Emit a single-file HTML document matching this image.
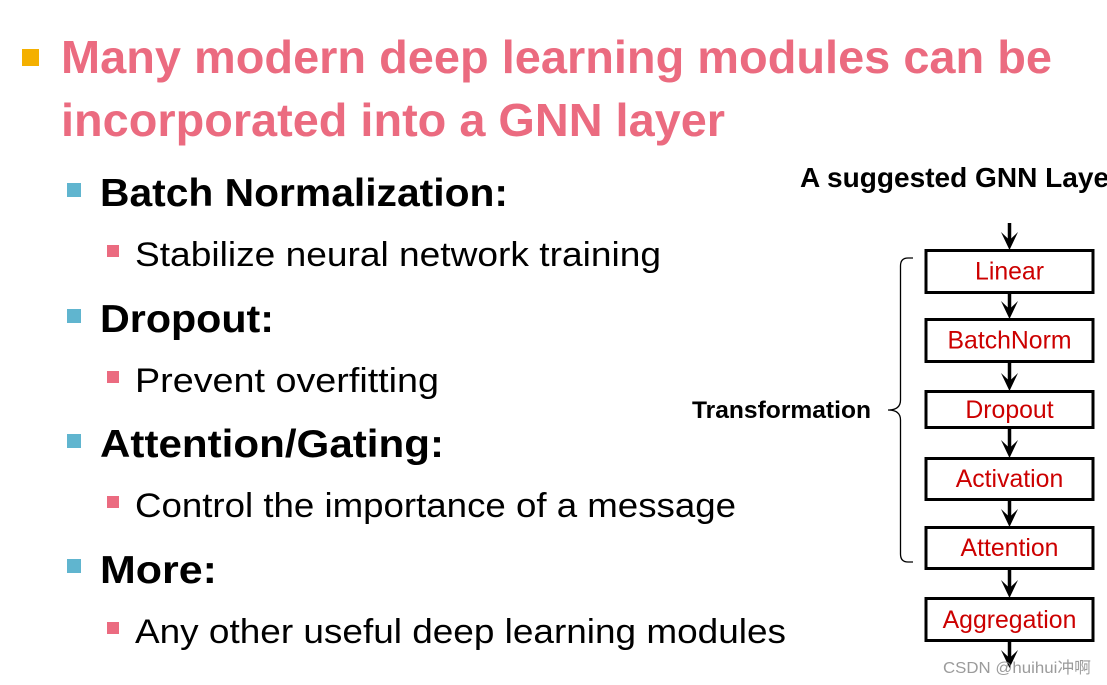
<!DOCTYPE html>
<html><head><meta charset="utf-8">
<style>html,body{margin:0;padding:0;background:#fff;width:1107px;height:685px;overflow:hidden}svg{display:block}
text{font-family:"Liberation Sans","Noto Sans CJK SC",sans-serif}</style></head>
<body>
<svg width="1107" height="685" viewBox="0 0 1107 685" xmlns="http://www.w3.org/2000/svg">
<rect width="1107" height="685" fill="#fff"/>
<defs>
<g id="a"><path d="M-8.500 -17 L0 -9 L8.500 -17 L0 1 Z" fill="#000"/></g>
</defs>
<rect x="22" y="49" width="17" height="17" fill="#f4b000"/>
<g fill="#60b5cf">
<rect x="67" y="183" width="14" height="14"/><rect x="67" y="309" width="14" height="14"/><rect x="67" y="434" width="14" height="14"/><rect x="67" y="559" width="14" height="14"/>
</g>
<g fill="#eb6b80">
<rect x="107" y="245" width="12" height="12"/><rect x="107" y="371" width="12" height="12"/><rect x="107" y="496" width="12" height="12"/><rect x="107" y="622" width="12" height="12"/>
</g>
<g font-weight="700" font-size="46" fill="#eb6b80">
<text x="61" y="73" textLength="991" lengthAdjust="spacingAndGlyphs">Many modern deep learning modules can be</text>
<text x="61" y="136" textLength="664" lengthAdjust="spacingAndGlyphs">incorporated into a GNN layer</text>
</g>
<g font-weight="700" font-size="39" fill="#000">
<text x="100" y="206" textLength="408" lengthAdjust="spacingAndGlyphs">Batch Normalization:</text>
<text x="100" y="332" textLength="174" lengthAdjust="spacingAndGlyphs">Dropout:</text>
<text x="100" y="457" textLength="344" lengthAdjust="spacingAndGlyphs">Attention/Gating:</text>
<text x="100" y="583" textLength="117" lengthAdjust="spacingAndGlyphs">More:</text>
</g>
<g font-size="34" fill="#000">
<text x="135" y="266" textLength="526" lengthAdjust="spacingAndGlyphs">Stabilize neural network training</text>
<text x="135" y="392" textLength="304" lengthAdjust="spacingAndGlyphs">Prevent overfitting</text>
<text x="135" y="517" textLength="601" lengthAdjust="spacingAndGlyphs">Control the importance of a message</text>
<text x="135" y="643" textLength="651" lengthAdjust="spacingAndGlyphs">Any other useful deep learning modules</text>
</g>
<text x="800" y="187" font-size="28" font-weight="700" fill="#000" textLength="320" lengthAdjust="spacingAndGlyphs">A suggested GNN Layer</text>
<text x="692" y="418" font-size="24" font-weight="700" fill="#000" textLength="179" lengthAdjust="spacingAndGlyphs">Transformation</text>
<path d="M913 258 H908 Q900.500 258 900.500 266 V400 Q900.500 410 888 410 Q900.500 410 900.500 420 V554 Q900.500 562 908 562 H913" fill="none" stroke="#000" stroke-width="1.300"/>
<g fill="#fff" stroke="#000" stroke-width="3">
<rect x="926" y="250.500" width="167" height="42"/>
<rect x="926" y="319.500" width="167" height="42"/>
<rect x="926" y="391.500" width="167" height="36"/>
<rect x="926" y="458.500" width="167" height="41"/>
<rect x="926" y="527.500" width="167" height="41"/>
<rect x="926" y="598.500" width="167" height="42"/>
</g>
<g stroke="#000" stroke-width="3.500">
<line x1="1009.500" y1="223" x2="1009.500" y2="242"/>
<line x1="1009.500" y1="293" x2="1009.500" y2="311"/>
<line x1="1009.500" y1="362" x2="1009.500" y2="383"/>
<line x1="1009.500" y1="428" x2="1009.500" y2="450"/>
<line x1="1009.500" y1="500" x2="1009.500" y2="519"/>
<line x1="1009.500" y1="569" x2="1009.500" y2="590"/>
<line x1="1009.500" y1="641" x2="1009.500" y2="660"/>
</g>
<use href="#a" x="1009.500" y="249"/>
<use href="#a" x="1009.500" y="318"/>
<use href="#a" x="1009.500" y="390"/>
<use href="#a" x="1009.500" y="457"/>
<use href="#a" x="1009.500" y="526"/>
<use href="#a" x="1009.500" y="597"/>
<use href="#a" x="1009.500" y="667"/>
<g fill="#cc0000" font-size="24.800" text-anchor="middle">
<text x="1009.500" y="279.500">Linear</text>
<text x="1009.500" y="348.500">BatchNorm</text>
<text x="1009.500" y="418">Dropout</text>
<text x="1009.500" y="487">Activation</text>
<text x="1009.500" y="556">Attention</text>
<text x="1009.500" y="628">Aggregation</text>
</g>
<text x="943" y="673" font-size="16" fill="#8a8a8a" fill-opacity="0.85" textLength="148" lengthAdjust="spacingAndGlyphs">CSDN @huihui冲啊</text>
</svg>
</body></html>
